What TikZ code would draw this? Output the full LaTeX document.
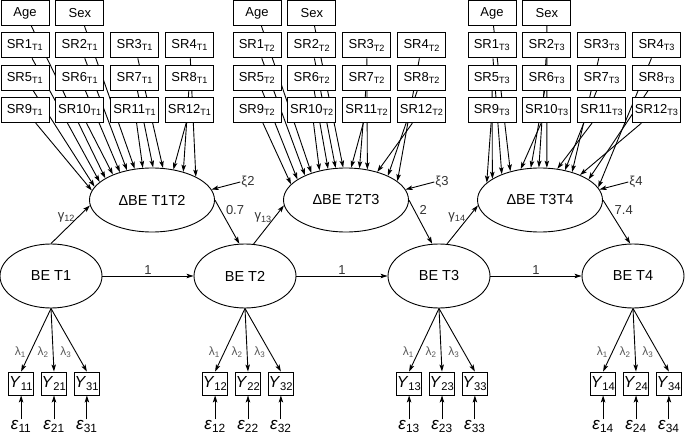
\documentclass[tikz,border=0pt]{standalone}
\usepackage{fontspec}
\setmainfont{Liberation Sans}
\usetikzlibrary{arrows.meta,positioning,backgrounds,shapes.geometric}

\begin{document}
\begin{tikzpicture}[x=1pt,y=-1pt,
		srbox/.style={draw,fill=white,line width=0.9pt,minimum width=48pt,minimum height=25pt,inner sep=1.5pt,font=\fontsize{13}{15}\selectfont},
		ind/.style={draw,fill=white,line width=0.9pt,minimum width=25pt,minimum height=23pt,inner sep=0pt,font=\fontsize{16}{18}\selectfont},
		lat/.style={draw,ellipse,fill=white,line width=0.9pt,minimum width=102pt,minimum height=64pt,inner sep=0pt,font=\fontsize{14.5}{16}\selectfont},
		dlat/.style={lat,minimum width=125pt},
		arr/.style={line width=0.9pt,-{Stealth[length=7pt,width=4.5pt,inset=1.5pt]}},
		coef/.style={text=black!80,inner sep=1pt,font=\fontsize{13}{15}\selectfont},
		lam/.style={text=black!65,inner sep=1pt,font=\fontsize{12}{13}\selectfont},
		err/.style={inner sep=1pt,font=\fontsize{17}{18}\selectfont}
	]
	\useasboundingbox (0,0) rectangle (685,435);

	% latent variables
	\foreach \i in {1,...,4}
		\node[lat] (be\i) at ({51+194*(\i-1)},276) {BE T\i};
	\foreach \i/\j in {1/2,2/3,3/4}{
		\node[dlat] (dbe\i) at ({152+194*(\i-1)},200) {ΔBE T\i T\j};
		\node[coef] (xi\j) at ({248+194*(\i-1)},182) {ξ\j};
		\draw[arr] (xi\j.west) -- (dbe\i.10);
		\draw[arr] (be\i) -- node[coef,above] {1} (be\j);
	}

	% self-report blocks
	\foreach \t/\ox in {1/0,2/232,3/467}{
		\node[srbox] (age-\t) at (\ox+25,13) {Age};
		\node[srbox,right=6pt of age-\t] (sex-\t) {Sex};
		\node[srbox,below=6.5pt of age-\t] (sr1-\t) {SR1\textsubscript{T\t}};
		\node[srbox,below=6.5pt of sex-\t] (sr2-\t) {SR2\textsubscript{T\t}};
		\node[srbox,right=6pt of sr2-\t] (sr3-\t) {SR3\textsubscript{T\t}};
		\node[srbox,right=6pt of sr3-\t] (sr4-\t) {SR4\textsubscript{T\t}};
		\foreach \k in {5,...,12}{
			\pgfmathtruncatemacro{\prv}{\k-4}
			\node[srbox,below=6.5pt of sr\prv-\t] (sr\k-\t) {SR\k\textsubscript{T\t}};
		}
	}

	\begin{scope}[on background layer]
		\foreach \s/\a in {sr9/171,sr5/167,sr1/161,age/155,sr10/147,sr6/139,sr2/130,sex/119,sr11/106,sr7/88,sr3/71,sr12/55,sr8/42,sr4/28}
			\draw[arr] (\s-1) -- (dbe1.\a);
		\foreach \s/\a in {sr9/164,sr5/157,sr1/149,age/142,sr10/132,sr6/120,sr2/108,sex/95,sr11/81,sr7/67,sr3/55,sr12/42,sr8/30,sr4/20}
			\draw[arr] (\s-2) -- (dbe2.\a);
		\foreach \s/\a in {sr9/162,sr5/156,sr1/146,age/136,sr10/122,sr6/106,sr2/92,sex/78,sr11/61,sr7/50,sr3/41,sr12/32,sr8/23,sr4/12}
			\draw[arr] (\s-3) -- (dbe3.\a);
	\end{scope}

	% structural paths
	\foreach \i/\a/\g in {1/90/12,2/75/13,3/76/14}
		\draw[arr] (be\i.\a) -- node[coef,pos=0.68,left=1pt] {γ\textsubscript{\g}} (dbe\i.185);
	\foreach \i/\j/\a/\w in {1/2/100/0.7,2/3/102/2,3/4/95/7.4}
		\draw[arr] (dbe\i.east) -- node[coef,pos=0.23,right=4pt] {\w} (be\j.\a);

	% indicators
	\foreach \i in {1,...,4}{
		\node[ind] (y2\i) at ({54+194*(\i-1)},383.5) {\textit{Y}\textsubscript{2\i}};
		\node[ind,left=7pt of y2\i] (y1\i) {\textit{Y}\textsubscript{1\i}};
		\node[ind,right=7pt of y2\i] (y3\i) {\textit{Y}\textsubscript{3\i}};
		\foreach \k in {1,2,3}{
			\node[err,below=24pt of y\k\i] (e\k\i) {\textit{ε}\textsubscript{\k\i}};
			\draw[arr] (e\k\i) -- (y\k\i);
			\draw[arr] (be\i.south) -- node[lam,pos=0.69,left=3pt] {λ\textsubscript{\k}} (y\k\i.north);
		}
	}
\end{tikzpicture}
\end{document}
